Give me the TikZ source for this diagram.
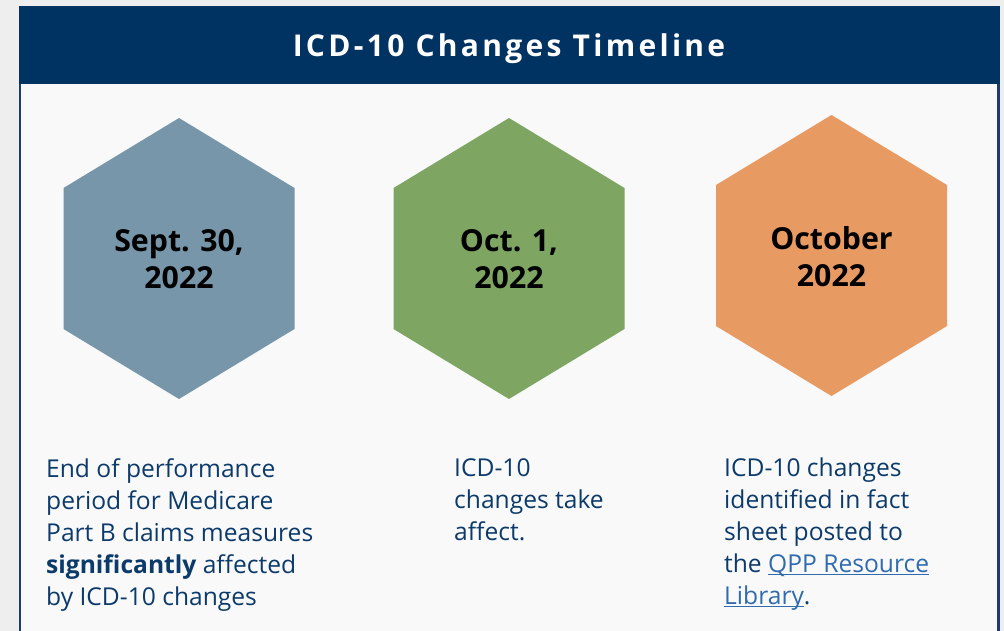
\documentclass[tikz,border=0pt]{standalone}
\usepackage{fontspec}
\setmainfont{Open Sans}
\newfontfamily\titlefont[LetterSpace=11]{Open Sans}
\definecolor{pagegray}{HTML}{EEEEEE}
\definecolor{panel}{HTML}{F9F9F9}
\definecolor{navy}{HTML}{003262}
\definecolor{frame}{HTML}{1E3A6E}
\definecolor{bodytext}{HTML}{0B3A6B}
\definecolor{linkblue}{HTML}{2F6BAE}
\definecolor{hexslate}{HTML}{7796A9}
\definecolor{hexgreen}{HTML}{7EA562}
\definecolor{hexorange}{HTML}{E89A63}
% underline that sits just below the baseline, as for a hyperlink
\newcommand\linkline[1]{\setbox0\hbox{#1}\rlap{\rule[-2.6pt]{\wd0}{1.1pt}}\box0}
% pointy-top hexagon: centre x, centre y, colour
\newcommand\hexfill[3]{%
  \fill[#3] (#1,#2-140.5) -- (#1+115.5,#2-70.5) -- (#1+115.5,#2+70.5)
    -- (#1,#2+140.5) -- (#1-115.5,#2+70.5) -- (#1-115.5,#2-70.5) -- cycle;}
\tikzset{
  datelabel/.style={font=\fontsize{30.3}{37}\selectfont\bfseries, text=black,
    align=center, inner sep=0pt},
  bodynote/.style={font=\fontsize{24.6}{32}\selectfont, text=bodytext,
    align=left, inner sep=0pt, anchor=north west},
}
\begin{document}
\begin{tikzpicture}[x=1pt,y=-1pt]
  \useasboundingbox (0,0) rectangle (1004,631);
  \fill[pagegray] (0,0) rectangle (1004,631);
  % panel with frame
  \fill[panel] (20,6) rectangle (998,640);
  \fill[frame] (19,6) rectangle (21,640);
  \fill[frame] (997,6) rectangle (999.5,640);
  \fill[navy] (19,6) rectangle (999.5,84.5);
  \node[text=white, font=\titlefont\fontsize{30}{36}\selectfont\bfseries,
    anchor=base] (title) at (509,57) {ICD-10 Changes Timeline};

  % date hexagons
  \hexfill{179}{258.5}{hexslate}
  \hexfill{509}{258.5}{hexgreen}
  \hexfill{831.5}{255.5}{hexorange}
  \node[datelabel] (d1) at (179,259.5) {Sept. 30,\\2022};
  \node[datelabel] (d2) at (509,259.5) {Oct. 1,\\2022};
  \node[datelabel] (d3) at (831.5,256.5) {October\\2022};

  % descriptions
  \node[bodynote] (n1) at (46,458) {End of performance\\period for Medicare\\Part B claims measures\\\textbf{significantly} affected\\by ICD-10 changes};
  \node[bodynote] (n2) at (454,458) {ICD-10\\changes take\\affect.};
  \node[bodynote] (n3) at (724,458) {ICD-10 changes\\identified in fact\\sheet posted to\\the \textcolor{linkblue}{\linkline{QPP Resource}}\\\textcolor{linkblue}{\linkline{Library}}.};
\end{tikzpicture}
\end{document}
